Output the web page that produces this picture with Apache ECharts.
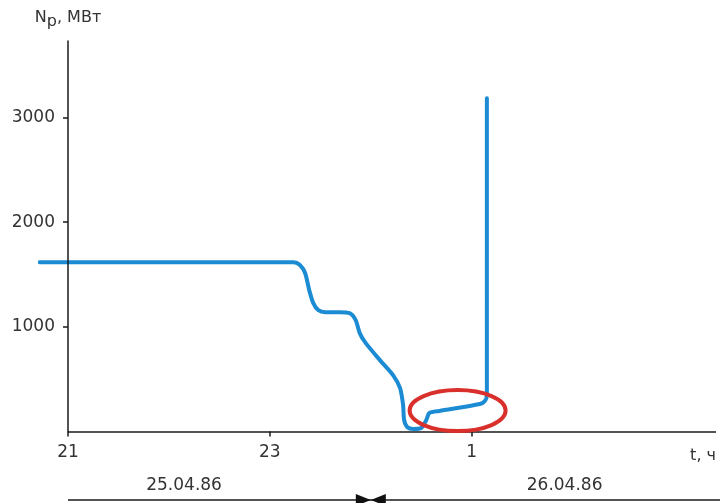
<!DOCTYPE html>
<html>
<head>
<meta charset="utf-8">
<script src="https://cdn.jsdelivr.net/npm/echarts@6/dist/echarts.min.js"></script>
<style>
  html, body { margin: 0; padding: 0; background: #fff; }
  #chart { width: 720px; height: 503px; }
</style>
</head>
<body>
<div id="chart"></div>
<script>
// Reactor thermal power, evening of 25.04.86 to the night of 26.04.86.
// Time is counted in hours from midnight of 25.04 (25 = 01:00 on 26.04).
const timeHours = [
  20.72, 23.23, 23.30, 23.35, 23.39, 23.43, 23.48, 23.55, 23.69, 23.79,
  23.85, 23.89, 23.95, 24.09, 24.22, 24.29, 24.32, 24.33, 24.36, 24.42,
  24.50, 24.55, 24.58, 24.68, 25.08, 25.13, 25.15, 25.15
];
const powerMW = [
  1617, 1617, 1589, 1512, 1350, 1226, 1159, 1140, 1140, 1131,
  1064, 940, 844, 682, 539, 415, 253, 110, 43, 24,
  33, 110, 177, 196, 262, 291, 348, 3182
];
const xTickHours = [21, 23, 25];
const yTickValues = [1000, 2000, 3000];
const dateLabels = ['25.04.86', '26.04.86'];
const midnightHour = 24;

const FONT = 'DejaVu Sans';
const TEXT = '#333';
const AXIS = '#1a1a1a';

// The plot area starts a little before 21:00 so the curve can begin left of the
// power axis; the power axis itself is shifted right onto the 21:00 position.
const X_AXIS_START = 21;
const X_MAX = 27.42;
const PLOT_LEFT = 40;
const AXIS_LEFT = 68;
const PLOT_RIGHT = 716;
const pxPerHour = (PLOT_RIGHT - AXIS_LEFT) / (X_MAX - X_AXIS_START);
const X_MIN = X_AXIS_START - (AXIS_LEFT - PLOT_LEFT) / pxPerHour;

const chart = echarts.init(document.getElementById('chart'));

chart.setOption({
  animation: false,
  grid: { left: PLOT_LEFT, right: 720 - PLOT_RIGHT, top: 41, bottom: 71.5, containLabel: false },
  xAxis: {
    type: 'value',
    min: X_MIN,
    max: X_MAX,
    name: 't, ч',
    nameLocation: 'end',
    nameGap: 0,
    nameTextStyle: { fontFamily: FONT, fontSize: 16, color: TEXT, align: 'right', verticalAlign: 'top', padding: [16, 0, 0, 0] },
    axisLine: { show: false },
    axisTick: { show: true, length: 5, inside: false, customValues: xTickHours, lineStyle: { color: AXIS, width: 1.5 } },
    axisLabel: {
      customValues: xTickHours,
      margin: 13,
      fontFamily: FONT, fontSize: 17, color: TEXT,
      formatter: v => String(v > 24 ? v - 24 : v)
    },
    splitLine: { show: false }
  },
  yAxis: {
    type: 'value',
    min: 0,
    max: 3730,
    offset: PLOT_LEFT - AXIS_LEFT,
    z: 5,
    name: '{a|N}{s|р}{a|, МВт}',
    nameLocation: 'end',
    nameGap: 11,
    nameTextStyle: {
      rich: {
        a: { fontFamily: FONT, fontSize: 16, color: TEXT, lineHeight: 24 },
        s: { fontFamily: FONT, fontSize: 16, color: TEXT, lineHeight: 16, verticalAlign: 'bottom' }
      }
    },
    axisLine: { show: true, lineStyle: { color: AXIS, width: 1.5 } },
    axisTick: { show: true, length: 5, customValues: yTickValues, lineStyle: { color: AXIS, width: 1.5 } },
    axisLabel: { customValues: yTickValues, margin: 13, fontFamily: FONT, fontSize: 17, color: TEXT, formatter: v => String(v) },
    splitLine: { show: false }
  },
  series: [{
    type: 'line',
    data: timeHours.map((t, i) => [t, powerMW[i]]),
    smooth: 0.25,
    showSymbol: false,
    lineStyle: { color: '#1B8BD4', width: 4, cap: 'round', join: 'round' },
    z: 3,
    // Time axis baseline, starting at 21:00
    markLine: {
      silent: true,
      symbol: 'none',
      label: { show: false },
      lineStyle: { color: AXIS, width: 1.5, type: 'solid' },
      data: [[{ coord: [X_AXIS_START, 0] }, { coord: [X_MAX, 0] }]],
      z: 1
    }
  }]
});

// Annotations: date bar under the time axis and the highlighted low-power region.
function drawAnnotations() {
  const toPx = p => chart.convertToPixel({ gridIndex: 0 }, p);
  const start = toPx([X_AXIS_START, 0]);
  const mid = toPx([midnightHour, 0]);
  const barY = 500;
  const day1 = toPx([22.15, 0]);
  const day2 = toPx([25.92, 0]);
  const ellC = toPx([24.86, 200]);

  chart.setOption({
    graphic: [
      { type: 'line', shape: { x1: start[0], y1: barY, x2: 720, y2: barY }, style: { stroke: AXIS, lineWidth: 1.5 }, silent: true },
      { type: 'polygon', shape: { points: [[mid[0] - 15, barY - 6], [mid[0], barY], [mid[0] - 15, barY + 6]] }, style: { fill: '#111' }, silent: true },
      { type: 'polygon', shape: { points: [[mid[0] + 15, barY - 6], [mid[0], barY], [mid[0] + 15, barY + 6]] }, style: { fill: '#111' }, silent: true },
      { type: 'text', x: day1[0], y: 486, style: { text: dateLabels[0], fontFamily: FONT, fontSize: 17, fill: TEXT, align: 'center', verticalAlign: 'middle' }, silent: true },
      { type: 'text', x: day2[0], y: 486, style: { text: dateLabels[1], fontFamily: FONT, fontSize: 17, fill: TEXT, align: 'center', verticalAlign: 'middle' }, silent: true },
      { type: 'ellipse', shape: { cx: ellC[0], cy: ellC[1], rx: 48, ry: 20.5 }, style: { fill: 'none', stroke: '#D9302B', lineWidth: 4 }, z: 10, silent: true }
    ]
  });
}
drawAnnotations();
</script>
</body>
</html>
